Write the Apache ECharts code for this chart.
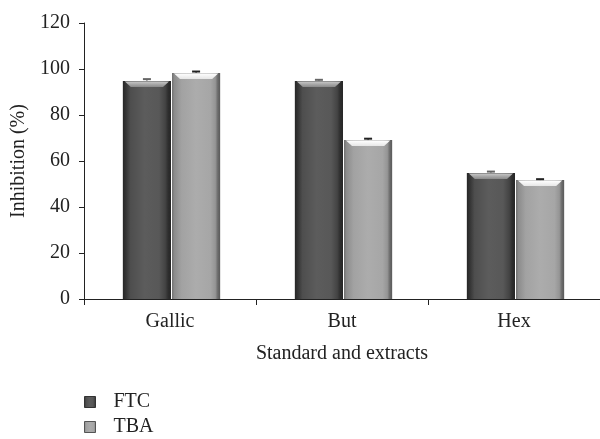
<!DOCTYPE html>
<html>
<head>
<meta charset="utf-8">
<script src="https://cdn.jsdelivr.net/npm/echarts@6/dist/echarts.min.js"></script>
<style>html,body{margin:0;padding:0;background:#fff}#c{width:600px;height:439px}</style>
</head>
<body>
<div id="c"></div>
<script>
var categories = ['Gallic', 'But', 'Hex'];
var ftcValues = [94.8, 94.8, 54.8];
var ftcErrors = [0.8, 0.5, 0.6];
var tbaValues = [98.3, 69.1, 51.7];
var tbaErrors = [0.6, 0.6, 0.4];
var yTicks = [0, 20, 40, 60, 80, 100, 120];

var FONT = '"Liberation Serif", "DejaVu Serif", serif';
var FS = 20;

function hGrad(stops) {
  return new echarts.graphic.LinearGradient(0, 0, 1, 0, stops.map(function (s) { return { offset: s[0], color: s[1] }; }));
}
var ftcFill = [[0, '#262626'], [0.07, '#363636'], [0.16, '#4e4e4e'], [0.45, '#5c5c5c'], [0.75, '#585858'], [0.88, '#444'], [0.94, '#2e2e2e'], [1, '#262626']];
var tbaFill = [[0, '#707070'], [0.05, '#8c8c8c'], [0.2, '#a2a2a2'], [0.5, '#acacac'], [0.8, '#a6a6a6'], [0.9, '#959595'], [0.95, '#6c6c6c'], [1, '#5a5a5a']];

function makeRender(sign, fillStops, hiTop, hiBot, errColor) {
  return function (params, api) {
    var idx = api.value(0), val = api.value(1), err = api.value(2);
    var band = api.size([1, 0])[0];
    var w = band * 0.28;
    var c = api.coord([idx, 0]);
    var top = api.coord([idx, val]);
    var x0 = sign < 0 ? c[0] - w + 1 : c[0] + 2;
    var y0 = top[1], y1 = c[1];
    var eTop = api.coord([idx, val + err])[1];
    var cx = x0 + w / 2;
    return {
      type: 'group',
      children: [
        { type: 'rect', shape: { x: x0, y: y0, width: w, height: y1 - y0 }, style: { fill: hGrad(fillStops) } },
        { type: 'polygon', shape: { points: [[x0 + 2, y0 + 0.5], [x0 + w - 2, y0 + 0.5], [x0 + w - 8, y0 + 6], [x0 + 8, y0 + 6]] },
          style: { fill: new echarts.graphic.LinearGradient(0, 0, 0, 1, [{ offset: 0, color: hiTop }, { offset: 1, color: hiBot }]) } },
        { type: 'line', shape: { x1: cx - 4, y1: eTop, x2: cx + 4, y2: eTop }, style: { stroke: errColor, lineWidth: 2 } },
        { type: 'line', shape: { x1: cx, y1: eTop, x2: cx, y2: y0 }, style: { stroke: errColor, lineWidth: 1 } }
      ]
    };
  };
}

function seriesData(vals, errs) {
  return vals.map(function (v, i) { return [i, v, errs[i]]; });
}

var chart = echarts.init(document.getElementById('c'), null, { renderer: 'canvas' });
chart.setOption({
  animation: false,
  textStyle: { fontFamily: FONT },
  grid: { left: 84, right: 0, top: 23, bottom: 140 },
  legend: {
    orient: 'vertical', left: 84, top: 392, padding: 0, itemWidth: 11, itemHeight: 11, itemGap: 5,
    icon: 'rect',
    textStyle: { fontFamily: FONT, fontSize: FS, color: '#222', padding: [0, 0, 0, 13] },
    data: [
      { name: 'FTC', itemStyle: { color: hGrad(ftcFill), borderColor: '#333', borderWidth: 1 } },
      { name: 'TBA', itemStyle: { color: hGrad(tbaFill), borderColor: '#555', borderWidth: 1 } }
    ]
  },
  xAxis: {
    type: 'category', data: categories,
    name: 'Standard and extracts', nameLocation: 'middle', nameGap: 45,
    nameTextStyle: { fontFamily: FONT, fontSize: FS, color: '#222' },
    axisLine: { lineStyle: { color: '#222', width: 1 } },
    axisTick: { show: true, length: 6, lineStyle: { color: '#222' }, alignWithLabel: false },
    axisLabel: { fontFamily: FONT, fontSize: FS, color: '#222', margin: 13 }
  },
  yAxis: {
    type: 'value', min: 0, max: 120, interval: 20,
    name: 'Inhibition (%)', nameLocation: 'middle', nameGap: 53,
    nameTextStyle: { fontFamily: FONT, fontSize: FS, color: '#222' },
    axisLine: { show: true, lineStyle: { color: '#222', width: 1 } },
    axisTick: { show: true, length: 5, lineStyle: { color: '#222' } },
    axisLabel: { fontFamily: FONT, fontSize: FS, color: '#222', margin: 14,
      formatter: function (v) { return yTicks.indexOf(v) >= 0 ? String(v) : ''; } },
    splitLine: { show: false }
  },
  series: [
    { name: 'FTC', type: 'custom', data: seriesData(ftcValues, ftcErrors), itemStyle: { color: '#555' },
      encode: { x: 0, y: 1 }, renderItem: makeRender(-1, ftcFill, '#c8c8c8', '#8a8a8a', '#666') },
    { name: 'TBA', type: 'custom', data: seriesData(tbaValues, tbaErrors), itemStyle: { color: '#aaa' },
      encode: { x: 0, y: 1 }, renderItem: makeRender(1, tbaFill, '#ffffff', '#e6e6e6', '#222') }
  ]
});
</script>
</body>
</html>
